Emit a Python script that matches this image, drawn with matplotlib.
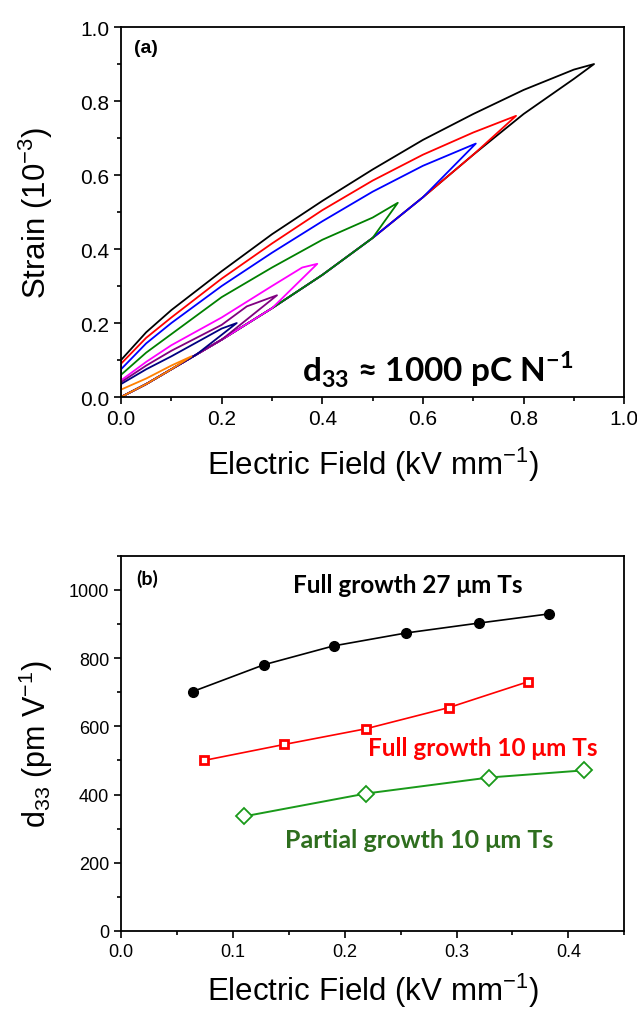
import matplotlib.pyplot as plt
from matplotlib.ticker import MultipleLocator

plt.rcParams['font.family'] = ['Liberation Sans', 'DejaVu Sans']
plt.rcParams['mathtext.fontset'] = 'custom'
plt.rcParams['mathtext.rm'] = 'Liberation Sans'
plt.rcParams['mathtext.bf'] = 'Lato:bold'

# ---- panel (a): strain loops ----
# common rising branch (field, strain)
lower_E = [0.0, 0.05, 0.1, 0.15, 0.2, 0.3, 0.4, 0.5, 0.6, 0.7, 0.8, 0.9]
lower_S = [0.0, 0.035, 0.075, 0.115, 0.155, 0.24, 0.33, 0.43, 0.54, 0.655, 0.765, 0.86]

loop_colors = ['black', 'red', 'blue', 'green', 'magenta', 'purple', 'navy', '#ff8000']
tip_E = [0.94, 0.785, 0.705, 0.55, 0.39, 0.31, 0.23, 0.14]
tip_S = [0.90, 0.76, 0.685, 0.525, 0.36, 0.275, 0.20, 0.11]
# falling branches, from high field back to zero
upper_E = [
    [0.9, 0.8, 0.7, 0.6, 0.5, 0.4, 0.3, 0.2, 0.1, 0.05, 0.0],
    [0.7, 0.6, 0.5, 0.4, 0.3, 0.2, 0.1, 0.05, 0.0],
    [0.6, 0.5, 0.4, 0.3, 0.2, 0.1, 0.05, 0.0],
    [0.5, 0.4, 0.3, 0.2, 0.1, 0.05, 0.0],
    [0.36, 0.3, 0.2, 0.1, 0.05, 0.0],
    [0.25, 0.2, 0.1, 0.05, 0.0],
    [0.2, 0.1, 0.05, 0.0],
    [0.1, 0.05, 0.0],
]
upper_S = [
    [0.885, 0.83, 0.765, 0.695, 0.615, 0.53, 0.44, 0.34, 0.235, 0.175, 0.10],
    [0.715, 0.655, 0.585, 0.505, 0.415, 0.32, 0.215, 0.16, 0.09],
    [0.625, 0.555, 0.475, 0.39, 0.30, 0.20, 0.145, 0.075],
    [0.485, 0.425, 0.35, 0.27, 0.17, 0.12, 0.06],
    [0.35, 0.30, 0.215, 0.14, 0.095, 0.045],
    [0.245, 0.195, 0.125, 0.085, 0.04],
    [0.185, 0.11, 0.075, 0.035],
    [0.085, 0.05, 0.02],
]

# ---- panel (b): d33 vs field ----
full27_E = [0.064, 0.128, 0.19, 0.255, 0.32, 0.383]
full27_d = [702, 781, 836, 874, 903, 930]
full10_E = [0.074, 0.146, 0.219, 0.293, 0.364]
full10_d = [500, 547, 593, 655, 731]
part10_E = [0.110, 0.219, 0.329, 0.414]
part10_d = [336, 403, 450, 471]

fig = plt.figure(figsize=(6.37, 10.12), dpi=100)
ax1 = fig.add_axes([0.190, 0.6067, 0.790, 0.3656])
ax2 = fig.add_axes([0.190, 0.0791, 0.790, 0.3706])

for i in range(len(tip_E)):
    xs = [e for e in lower_E if e < tip_E[i] - 0.03]
    ys = lower_S[:len(xs)]
    xs = xs + [tip_E[i]] + upper_E[i] + [0.0]
    ys = ys + [tip_S[i]] + upper_S[i] + [0.0]
    ax1.plot(xs, ys, color=loop_colors[i], lw=1.3)

ax1.set_xlim(0, 1.0)
ax1.set_ylim(0, 1.0)
ax1.xaxis.set_major_locator(MultipleLocator(0.2))
ax1.xaxis.set_minor_locator(MultipleLocator(0.1))
ax1.yaxis.set_major_locator(MultipleLocator(0.2))
ax1.yaxis.set_minor_locator(MultipleLocator(0.1))
ax1.xaxis.set_major_formatter(plt.FormatStrFormatter('%.1f'))
ax1.yaxis.set_major_formatter(plt.FormatStrFormatter('%.1f'))
ax1.set_xlabel('Electric Field (kV mm$^{-1}$)', fontsize=22.5, labelpad=12)
ax1.set_ylabel('Strain (10$^{-3}$)', fontsize=22.5, labelpad=18)
ax1.text(0.025, 0.945, '(a)', transform=ax1.transAxes, fontsize=14,
         fontweight='bold', va='center')
ax1.text(0.36, 0.076, r'd$_{\mathbf{33}}$ ≈ 1000 pC N$^{\mathbf{-1}}$',
         transform=ax1.transAxes, fontsize=24, fontweight='bold',
         family=['Lato', 'DejaVu Sans'], va='center')

ax2.plot(full27_E, full27_d, color='black', lw=1.2, marker='o', ms=7)
ax2.plot(full10_E, full10_d, color='red', lw=1.2, marker='s', ms=6,
         mfc='white', mew=2)
ax2.plot(part10_E, part10_d, color='#1a9a1a', lw=1.4, marker='D', ms=8,
         mfc='white', mew=1.3)
ax2.set_xlim(0, 0.45)
ax2.set_ylim(0, 1100)
ax2.xaxis.set_major_locator(MultipleLocator(0.1))
ax2.xaxis.set_minor_locator(MultipleLocator(0.05))
ax2.yaxis.set_major_locator(MultipleLocator(200))
ax2.yaxis.set_minor_locator(MultipleLocator(100))
ax2.xaxis.set_major_formatter(plt.FormatStrFormatter('%.1f'))
ax2.set_xlabel('Electric Field (kV mm$^{-1}$)', fontsize=22.5, labelpad=8)
ax2.set_ylabel('d$_{33}$ (pm V$^{-1}$)', fontsize=22, labelpad=10)
ax2.text(0.03, 0.94, '(b)', transform=ax2.transAxes, fontsize=14,
         fontweight='bold', va='center', family=['Lato', 'DejaVu Sans'])
ax2.text(0.342, 0.923, 'Full growth 27 μm Ts', transform=ax2.transAxes,
         fontsize=17.5, fontweight='bold', va='center', color='black',
         family=['Lato', 'DejaVu Sans'])
ax2.text(0.491, 0.488, 'Full growth 10 μm Ts', transform=ax2.transAxes,
         fontsize=17.5, fontweight='bold', va='center', color='red',
         family=['Lato', 'DejaVu Sans'])
ax2.text(0.326, 0.243, 'Partial growth 10 μm Ts', transform=ax2.transAxes,
         fontsize=18, fontweight='bold', va='center', color='#2e6e1e',
         family=['Lato', 'DejaVu Sans'])

for ax, fs in ((ax1, 15), (ax2, 13)):
    ax.tick_params(which='both', direction='out', top=False, right=False,
                   labelsize=fs, width=1.2)
    ax.tick_params(which='major', length=5)
    ax.tick_params(which='minor', length=3)
    for sp in ax.spines.values():
        sp.set_linewidth(1.3)

plt.savefig('out.png', dpi=100)
